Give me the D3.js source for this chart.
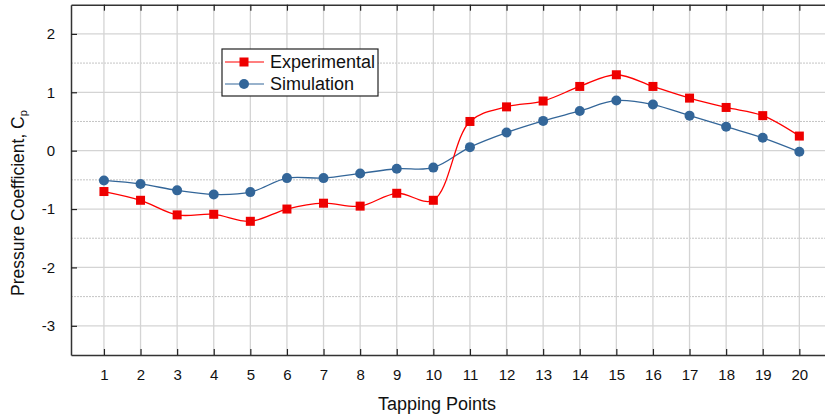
<!DOCTYPE html>
<html>
<head>
<meta charset="utf-8">
<script src="https://cdn.jsdelivr.net/npm/d3@7"></script>
<style>
  body { margin: 0; background: #fff; }
  text { font-family: "Liberation Sans", Arial, sans-serif; fill: #111; }
</style>
</head>
<body>
<div id="chart"></div>
<script>
const W = 825, H = 418;
const margin = {top: 5, left: 71, bottom: 64};

// tapping points 1..20
const points = d3.range(1, 21);
const experimental = [-0.70, -0.85, -1.10, -1.09, -1.21, -1.00, -0.90, -0.95, -0.73, -0.85,
                       0.50, 0.75, 0.85, 1.10, 1.30, 1.10, 0.90, 0.74, 0.60, 0.25];
const simulation = [-0.51, -0.57, -0.68, -0.75, -0.71, -0.47, -0.47, -0.39, -0.31, -0.29,
                     0.06, 0.31, 0.51, 0.68, 0.86, 0.79, 0.60, 0.41, 0.22, -0.02];
const yTicks = [-3, -2, -1, 0, 1, 2];
const yMinor = [-3.5, -2.5, -1.5, -0.5, 0.5, 1.5, 2.5];

const svg = d3.select("#chart").append("svg")
  .attr("width", W).attr("height", H);

const x = d3.scaleLinear().domain([0.1, 21]).range([margin.left, margin.left + 20.9 * 36.6]);
const y = d3.scaleLinear().domain([-3.5, 2.5]).range([H - margin.bottom + 1, margin.top - 0.3]);

const x0 = x(0.1), x1 = x(21), yb = y(-3.5), yt = y(2.5);

//--------------------------- GRID
const grid = svg.append("g");
grid.selectAll(".minor").data(yMinor.filter(d => d > -3.5 && d < 2.5)).join("line")
  .attr("x1", x0).attr("x2", x1)
  .attr("y1", d => y(d)).attr("y2", d => y(d))
  .attr("stroke", "#c4c4c4").attr("stroke-width", 1).attr("stroke-dasharray", "2,1");
grid.selectAll(".major").data(yTicks).join("line")
  .attr("x1", x0).attr("x2", x1)
  .attr("y1", d => y(d)).attr("y2", d => y(d))
  .attr("stroke", "#d4d4d4").attr("stroke-width", 1.3);
grid.selectAll(".vert").data(points).join("line")
  .attr("x1", d => x(d)).attr("x2", d => x(d))
  .attr("y1", yt).attr("y2", yb)
  .attr("stroke", "#d4d4d4").attr("stroke-width", 1.3);

//--------------------------- AXES
const font = "'Liberation Sans', Arial, sans-serif";
const xAxis = svg.append("g")
  .attr("transform", `translate(0,${yb})`)
  .call(d3.axisBottom(x).tickValues(points).tickSize(-6).tickPadding(14).tickSizeOuter(0));
xAxis.select(".domain").attr("stroke", "#333").attr("stroke-width", 1.5);
xAxis.selectAll(".tick line").attr("stroke", "#222").attr("stroke-width", 1.2);
xAxis.selectAll("text").attr("font-size", 15).style("font-family", font).attr("fill", "#111");

const xTop = svg.append("g")
  .attr("transform", `translate(0,${yt})`)
  .call(d3.axisTop(x).tickValues(points).tickSize(-6).tickFormat("").tickSizeOuter(0));
xTop.select(".domain").attr("stroke", "#333").attr("stroke-width", 1.5);
xTop.selectAll(".tick line").attr("stroke", "#222").attr("stroke-width", 1.2);

const yAxis = svg.append("g")
  .attr("transform", `translate(${x0},0)`)
  .call(d3.axisLeft(y).tickValues(yTicks).tickSize(-6).tickPadding(16).tickSizeOuter(0)
    .tickFormat(d => String(d)));
yAxis.select(".domain").attr("stroke", "#333").attr("stroke-width", 1.5);
yAxis.selectAll(".tick line").attr("stroke", "#222").attr("stroke-width", 1.2);
yAxis.selectAll("text").attr("font-size", 15).style("font-family", font).attr("fill", "#111");

//--------------------------- TITLES
svg.append("text")
  .attr("x", 437).attr("y", 410)
  .attr("text-anchor", "middle").attr("font-size", 18)
  .text("Tapping Points");

const yt_ = svg.append("text")
  .attr("transform", "translate(24,203) rotate(-90)")
  .attr("text-anchor", "middle").attr("font-size", 17.5);
yt_.append("tspan").text("Pressure Coefficient, C");
yt_.append("tspan").attr("font-size", 11).attr("dy", 3).text("p");

//--------------------------- SERIES
const line = d3.line().x((d, i) => x(points[i])).y(d => y(d)).curve(d3.curveCatmullRom.alpha(0.5));

svg.append("path").datum(simulation)
  .attr("d", line).attr("fill", "none").attr("stroke", "#336699").attr("stroke-width", 1.3);
svg.append("path").datum(experimental)
  .attr("d", line).attr("fill", "none").attr("stroke", "#ff0000").attr("stroke-width", 1.3);

svg.append("g").selectAll("circle").data(simulation).join("circle")
  .attr("cx", (d, i) => x(points[i])).attr("cy", d => y(d))
  .attr("r", 5).attr("fill", "#336699");
svg.append("g").selectAll("rect").data(experimental).join("rect")
  .attr("x", (d, i) => x(points[i]) - 4.5).attr("y", d => y(d) - 4.5)
  .attr("width", 9).attr("height", 9).attr("fill", "#ee0000");

//--------------------------- LEGEND
const lg = svg.append("g").attr("transform", "translate(222,49)");
lg.append("rect").attr("width", 156).attr("height", 47)
  .attr("fill", "#fff").attr("stroke", "#222").attr("stroke-width", 1.2);
const items = [
  {name: "Experimental", color: "#ff0000", shape: "rect"},
  {name: "Simulation", color: "#336699", shape: "circle"}
];
items.forEach((it, i) => {
  const cy = 13 + i * 22;
  lg.append("line").attr("x1", 3).attr("x2", 42).attr("y1", cy).attr("y2", cy)
    .attr("stroke", it.color).attr("stroke-width", 1.2);
  if (it.shape === "rect") {
    lg.append("rect").attr("x", 17.5).attr("y", cy - 4.5).attr("width", 9).attr("height", 9).attr("fill", "#ee0000");
  } else {
    lg.append("circle").attr("cx", 22).attr("cy", cy).attr("r", 5).attr("fill", it.color);
  }
  lg.append("text").attr("x", 48).attr("y", cy + 6).attr("font-size", 18).text(it.name);
});
</script>
</body>
</html>
